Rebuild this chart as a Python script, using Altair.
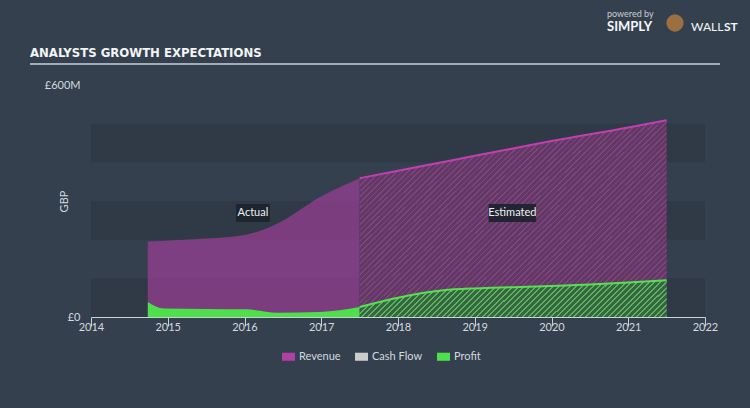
import altair as alt
import pandas as pd

# ---- data ----
act_years = [2014.74, 2014.95, 2015.5, 2016.02, 2016.43, 2016.98, 2017.5]
act_revenue = [195, 197, 203, 213, 242, 310, 359]
act_profit = [39, 22, 21, 20, 11, 13, 26]

est_years = [2017.5, 2018.0, 2018.59, 2019.0, 2019.5, 2020.0, 2021.0, 2021.5]
est_revenue = [359, 378, 401, 417, 436, 455, 490, 509]
est_profit = [26, 50, 69, 74, 77, 80, 89, 95]

series_names = ["Revenue", "Cash Flow", "Profit"]
series_colors = ["#b13fa5", "#cccccc", "#4ee04b"]

band_lo = [0, 200, 400]
band_hi = [100, 300, 500]

x_ticks = [2014, 2015, 2016, 2017, 2018, 2019, 2020, 2021, 2022]
y_ticks = [0, 600]

ann_text = ["Actual", "Estimated"]
ann_x = [2016.11, 2019.49]
ann_x0 = [2015.89, 2019.18]
ann_x1 = [2016.33, 2019.80]
ann_y = [269, 269]
ann_y0 = [246, 246]
ann_y1 = [292, 292]

FONT = "Lato"
TXT = "#d3d9de"

act = pd.DataFrame({"year": act_years, "Revenue": act_revenue, "Profit": act_profit})
est = pd.DataFrame({"year": est_years, "Revenue": est_revenue, "Profit": est_profit})
act["sr"] = "Revenue"
act["sp"] = "Profit"
bands = pd.DataFrame({"lo": band_lo, "hi": band_hi, "x0": [2014] * 3, "x1": [2022] * 3})
ann = pd.DataFrame({"t": ann_text, "x": ann_x, "x0": ann_x0, "x1": ann_x1,
                    "y": ann_y, "y0": ann_y0, "y1": ann_y1})
one = pd.DataFrame({"a": [0]})

xs = alt.Scale(domain=[2014, 2022], nice=False, zero=False)
ys = alt.Scale(domain=[0, 600], nice=False)
cs = alt.Scale(domain=series_names, range=series_colors)


def hatch(base, line, n, frac, x2, y2):
    stops = []
    for i in range(n):
        a = i / n
        b = (i + 1 - frac) / n
        c = (i + 1) / n
        stops += [alt.GradientStop(offset=a, color=base),
                  alt.GradientStop(offset=b, color=base),
                  alt.GradientStop(offset=b, color=line),
                  alt.GradientStop(offset=min(c, 1.0), color=line)]
    return alt.LinearGradient(gradient="linear", stops=stops, x1=0, y1=0, x2=x2, y2=y2)


x_axis = alt.Axis(values=x_ticks, format="d", labelColor=TXT, labelFont=FONT, labelFontSize=11,
                  domainColor="#c9d1d8", tickColor="#c9d1d8", tickSize=9, labelPadding=-5,
                  grid=False, title=None, labelFlush=False)
y_axis = alt.Axis(values=y_ticks, labelExpr="datum.value == 0 ? '£0' : '£600M'",
                  labelColor=TXT, labelFont=FONT, labelFontSize=11, domain=False, ticks=False,
                  grid=False, labelPadding=11, title="GBP", titleColor=TXT, titleFont=FONT,
                  titleFontSize=11, titleFontWeight="normal", titleX=-27, titleY=116,
                  titleAngle=270, titleAlign="center", titleBaseline="middle")


def X(f):
    return alt.X(f, scale=xs, axis=x_axis)


def Y(f):
    return alt.Y(f, scale=ys, axis=y_axis)


band_layer = alt.Chart(bands).mark_rect(color="#2f3a46").encode(
    x=X("x0:Q"), x2="x1:Q", y=Y("lo:Q"), y2="hi:Q",
)

rev_act = alt.Chart(act).mark_area(interpolate="monotone", opacity=0.6).encode(
    x=X("year:Q"),
    y=Y("Revenue:Q"),
    color=alt.Color("sr:N", scale=cs, legend=alt.Legend(
        title=None, orient="none", direction="horizontal", legendX=191, legendY=265,
        symbolType="M-1,-0.62H1V0.62H-1Z", symbolSize=169, symbolOpacity=1,
        symbolStrokeWidth=0, labelColor=TXT, labelFont=FONT, labelFontSize=11,
        labelOffset=4, columnPadding=14)),
)
prof_act = alt.Chart(act).mark_area(interpolate="monotone", opacity=1).encode(
    x=X("year:Q"), y=Y("Profit:Q"), color=alt.Color("sp:N", scale=cs),
)

rev_est = alt.Chart(est).mark_area(
    interpolate="monotone", fill=hatch("#633766", "#7d467b", 90, 0.3, 1.16, 0.754)
).encode(x=X("year:Q"), y=Y("Revenue:Q"))
rev_line = alt.Chart(est).mark_line(interpolate="monotone", color="#c040b2", strokeWidth=2).encode(
    x=X("year:Q"), y=Y("Revenue:Q"))
prof_est = alt.Chart(est).mark_area(
    interpolate="monotone", fill=hatch("#386344", "#58b656", 60, 0.35, 1.104, 0.1325)
).encode(x=X("year:Q"), y=Y("Profit:Q"))
prof_line = alt.Chart(est).mark_line(interpolate="monotone", color="#56e052", strokeWidth=2).encode(
    x=X("year:Q"), y=Y("Profit:Q"))

ann_box = alt.Chart(ann).mark_rect(color="#1c242c", opacity=0.92).encode(
    x=X("x0:Q"), x2="x1:Q", y=Y("y0:Q"), y2="y1:Q",
)
ann_txt = alt.Chart(ann).mark_text(color="#eef1f3", font=FONT, fontSize=11).encode(
    x=X("x:Q"), y=Y("y:Q"), text="t:N",
)

title = alt.Chart(one).mark_text(
    align="left", baseline="middle",
    font="'Liberation Sans Narrow', 'DejaVu Sans Condensed', 'Roboto'", fontWeight="bold",
    fontSize=13, color="#f2f4f6"
).encode(x=alt.value(-61), y=alt.value(-32), text=alt.value("ANALYSTS GROWTH EXPECTATIONS"))
underline = alt.Chart(one).mark_rule(color="#c6d0d8", strokeWidth=1.5).encode(
    x=alt.value(-61), x2=alt.value(629), y=alt.value(-21))

logo1 = alt.Chart(one).mark_text(align="left", baseline="middle", font=FONT, fontSize=9,
                                 color="#c9ced3").encode(
    x=alt.value(516), y=alt.value(-71), text=alt.value("powered by"))
logo2 = alt.Chart(one).mark_text(align="left", baseline="middle", font=FONT, fontSize=13,
                                 fontWeight="bold", color="#f4f6f8").encode(
    x=alt.value(516), y=alt.value(-58), text=alt.value("SIMPLY"))
logo3 = alt.Chart(one).mark_point(filled=True, color="#9a7040", size=300, opacity=1).encode(
    x=alt.value(584), y=alt.value(-62))
logo4 = alt.Chart(one).mark_text(align="left", baseline="middle", font=FONT, fontSize=12,
                                 color="#f4f6f8").encode(
    x=alt.value(600), y=alt.value(-58), text=alt.value("WALL"))
logo5 = alt.Chart(one).mark_text(align="left", baseline="middle", font=FONT, fontSize=12,
                                 fontWeight="bold", color="#f4f6f8").encode(
    x=alt.value(633), y=alt.value(-58), text=alt.value("ST"))

chart = alt.layer(
    band_layer, rev_act, rev_est, rev_line, prof_act, prof_est, prof_line,
    ann_box, ann_txt, title, underline, logo1, logo2, logo3, logo4, logo5
).properties(
    width=614, height=232,
    autosize=alt.AutoSizeParams(type="none"),
    padding={"left": 91, "top": 85, "right": 45, "bottom": 91},
    background="#34404e",
).configure_view(stroke=None)

chart.save("out.html", embed_options={"renderer": "svg", "actions": False})
